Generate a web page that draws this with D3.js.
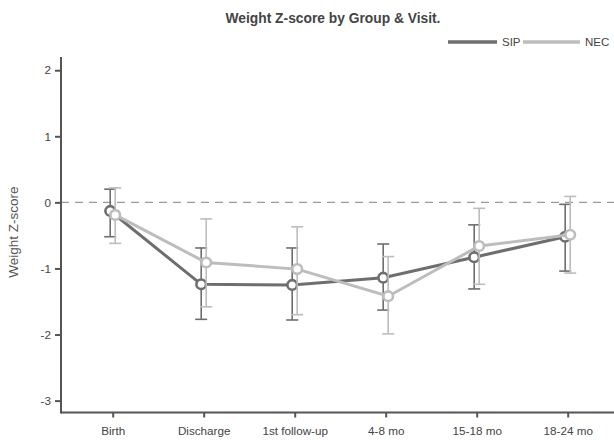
<!DOCTYPE html>
<html>
<head>
<meta charset="utf-8">
<script src="https://cdn.jsdelivr.net/npm/d3@7"></script>
<style>
  body { margin: 0; background: #fff; }
  svg { font-family: "Liberation Sans", Arial, sans-serif; }
</style>
</head>
<body>
<svg id="chart" width="614" height="440"></svg>
<script>
// data
var visits = ["Birth", "Discharge", "1st follow-up", "4-8 mo", "15-18 mo", "18-24 mo"];
var sipMean = [-0.13, -1.24, -1.25, -1.14, -0.83, -0.52];
var sipLow  = [-0.52, -1.77, -1.78, -1.63, -1.31, -1.04];
var sipHigh = [ 0.20, -0.69, -0.69, -0.63, -0.34, -0.03];
var necMean = [-0.19, -0.91, -1.01, -1.42, -0.66, -0.49];
var necLow  = [-0.62, -1.58, -1.70, -1.99, -1.24, -1.07];
var necHigh = [ 0.22, -0.25, -0.37, -0.82, -0.09,  0.09];
var yTicks = [-3, -2, -1, 0, 1, 2];

var ctx = {
  w: 614, h: 440,
  left: 61, right: 614, top: 57, bottom: 412.5,
  dodge: 2.5, capW: 12, r: 4.8,
  sipColor: "#6e6e6e", necColor: "#bdbdbd", axisColor: "#555"
};

var svg = d3.select("#chart");

var x = d3.scalePoint().domain(visits).range([112.7, 567.7]);
var y = d3.scaleLinear().domain([-3.18, 2.2]).range([ctx.bottom, ctx.top]);

// title
svg.append("text")
  .attr("x", 333).attr("y", 23)
  .attr("text-anchor", "middle")
  .attr("font-size", 13.8).attr("font-weight", "bold")
  .attr("fill", "#444")
  .text("Weight Z-score by Group & Visit.");

// zero reference line
svg.append("line")
  .attr("x1", ctx.left).attr("x2", ctx.right)
  .attr("y1", y(0)).attr("y2", y(0))
  .attr("stroke", "#9a9a9a").attr("stroke-width", 1.3)
  .attr("stroke-dasharray", "8,6");

// axes (plain hyphen for negatives, like the original)
var yAxis = svg.append("g")
  .attr("transform", "translate(" + ctx.left + ",0)")
  .call(d3.axisLeft(y).tickValues(yTicks).tickSize(6).tickPadding(4).tickFormat(function(d) { return String(d); }));
var xAxis = svg.append("g")
  .attr("transform", "translate(0," + ctx.bottom + ")")
  .call(d3.axisBottom(x).tickSize(5).tickPadding(9));
xAxis.select(".domain").attr("d", "M" + ctx.left + ",0H" + ctx.right);

[xAxis, yAxis].forEach(function(ax) {
  ax.select(".domain").attr("stroke", ctx.axisColor).attr("stroke-width", 2);
  ax.selectAll(".tick line").attr("stroke", ctx.axisColor).attr("stroke-width", 2);
  ax.selectAll(".tick text").attr("fill", "#444").attr("font-size", 11.7)
    .attr("font-family", "Liberation Sans, Arial, sans-serif");
});
// y domain without end caps, meeting the x axis
yAxis.select(".domain").attr("d", "M0," + ctx.top + "V" + (ctx.bottom + 1));

svg.append("text")
  .attr("transform", "translate(18," + y(-0.45) + ") rotate(-90)")
  .attr("text-anchor", "middle")
  .attr("font-size", 13.5).attr("fill", "#555")
  .text("Weight Z-score");

// series
var series = [
  {name: "SIP", mean: sipMean, low: sipLow, high: sipHigh, color: ctx.sipColor, off: -ctx.dodge},
  {name: "NEC", mean: necMean, low: necLow, high: necHigh, color: ctx.necColor, off: ctx.dodge}
];

var line = d3.line()
  .x(function(d) { return x(d.visit) + d.off; })
  .y(function(d) { return y(d.v); });

series.forEach(function(s) {
  var pts = visits.map(function(v, i) {
    return {visit: v, v: s.mean[i], lo: s.low[i], hi: s.high[i], off: s.off};
  });
  var g = svg.append("g").attr("class", "series-" + s.name);

  // error bars
  var eb = g.selectAll("g.eb").data(pts).enter().append("g").attr("class", "eb")
    .attr("stroke", s.color).attr("stroke-width", 1.6);
  eb.append("line")
    .attr("x1", function(d) { return x(d.visit) + d.off; })
    .attr("x2", function(d) { return x(d.visit) + d.off; })
    .attr("y1", function(d) { return y(d.hi); })
    .attr("y2", function(d) { return y(d.lo); });
  eb.append("line")
    .attr("x1", function(d) { return x(d.visit) + d.off - ctx.capW / 2; })
    .attr("x2", function(d) { return x(d.visit) + d.off + ctx.capW / 2; })
    .attr("y1", function(d) { return y(d.hi); })
    .attr("y2", function(d) { return y(d.hi); });
  eb.append("line")
    .attr("x1", function(d) { return x(d.visit) + d.off - ctx.capW / 2; })
    .attr("x2", function(d) { return x(d.visit) + d.off + ctx.capW / 2; })
    .attr("y1", function(d) { return y(d.lo); })
    .attr("y2", function(d) { return y(d.lo); });

  s.pts = pts;
  s.g = g;
});

series.forEach(function(s) {
  s.g.append("path").datum(s.pts)
    .attr("d", line)
    .attr("fill", "none").attr("stroke", s.color).attr("stroke-width", 3);
  s.g.selectAll("circle").data(s.pts).enter().append("circle")
    .attr("cx", function(d) { return x(d.visit) + d.off; })
    .attr("cy", function(d) { return y(d.v); })
    .attr("r", ctx.r)
    .attr("fill", "#fff").attr("stroke", s.color).attr("stroke-width", 2.6);
});

// legend
var legend = svg.append("g").attr("font-size", 11.5).attr("fill", "#444");
var legendItems = [
  {name: "SIP", x1: 448, x2: 497, color: ctx.sipColor},
  {name: "NEC", x1: 523, x2: 580, color: ctx.necColor}
];
legendItems.forEach(function(it) {
  legend.append("line")
    .attr("x1", it.x1).attr("x2", it.x2).attr("y1", 42).attr("y2", 42)
    .attr("stroke", it.color).attr("stroke-width", 3.5);
  legend.append("text")
    .attr("x", it.x2 + 5).attr("y", 46)
    .attr("fill", "#444")
    .text(it.name);
});
</script>
</body>
</html>
